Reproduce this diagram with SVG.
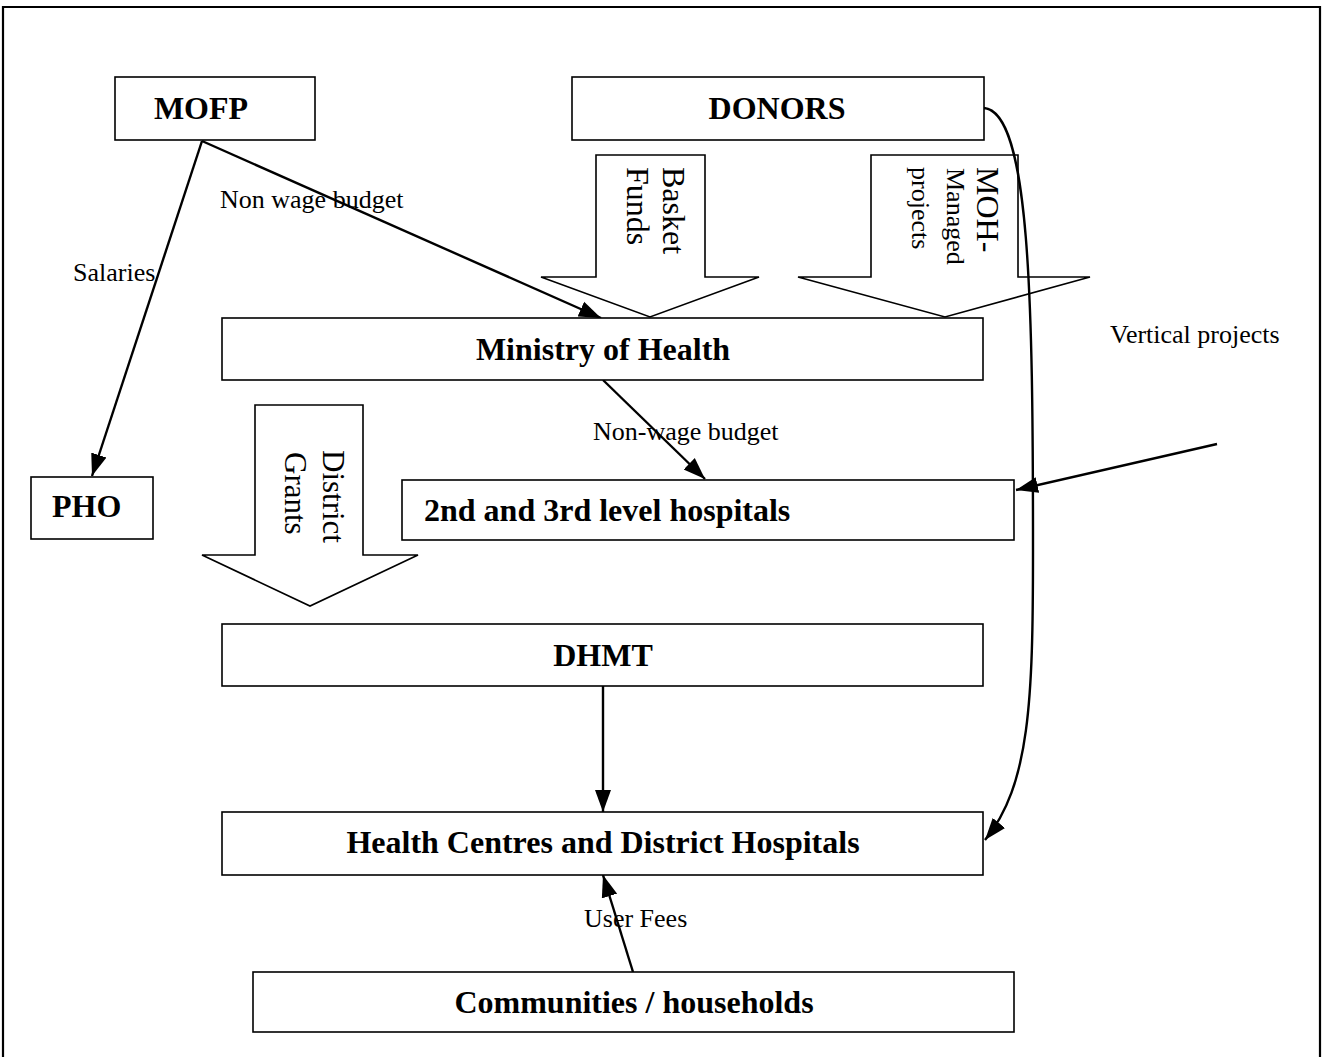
<svg xmlns="http://www.w3.org/2000/svg" width="1323" height="1057" viewBox="0 0 1323 1057">
<defs>
<style>
.box{fill:#fff;stroke:#000;stroke-width:1.6}
.blk{fill:#fff;stroke:#000;stroke-width:1.6;stroke-linejoin:miter}
.t{font-family:"Liberation Serif","Times New Roman",serif;font-weight:bold;font-size:32px;fill:#000}
.l{font-family:"Liberation Serif","Times New Roman",serif;font-size:26px;fill:#000}
.r{font-family:"Liberation Serif","Times New Roman",serif;font-size:32px;fill:#000}
.c{fill:none;stroke:#000;stroke-width:2.4}
</style>
<marker id="ah" markerUnits="userSpaceOnUse" markerWidth="24" markerHeight="18" viewBox="0 0 24 18" refX="22" refY="9" orient="auto">
<path d="M0,1 L22,9 L0,17 Z" fill="#000"/>
</marker>
</defs>
<rect width="1323" height="1057" fill="#fff"/>
<path d="M3,1057 V7 H1320 V1057" fill="none" stroke="#000" stroke-width="2.2"/>

<g id="arrow-basket">
<path class="blk" d="M596,155 H705 V277 H759 L650,317 L541,277 H596 Z"/>
<text class="r" transform="translate(663,167) rotate(90)">Basket</text>
<text class="r" transform="translate(627,167) rotate(90)">Funds</text>
</g>
<g id="arrow-moh-managed">
<path class="blk" d="M871,155 H1018 V277 H1090 L945,317 L798,277 H871 Z"/>
<text class="r" transform="translate(977,167) rotate(90)">MOH-</text>
<text class="l" transform="translate(947,168) rotate(90)">Managed</text>
<text class="l" transform="translate(912,167) rotate(90)">projects</text>
</g>
<g id="arrow-district-grants">
<path class="blk" d="M255,405 H363 V555 H418 L310,606 L202,555 H255 Z"/>
<text class="r" style="font-size:31px" transform="translate(323,450) rotate(90)">District</text>
<text class="r" style="font-size:31px" transform="translate(285,452) rotate(90)">Grants</text>
</g>

<g id="connectors">
<line class="c" x1="202" y1="141" x2="92" y2="476" marker-end="url(#ah)"/>
<line class="c" x1="202" y1="141" x2="601" y2="318" marker-end="url(#ah)"/>
<line class="c" x1="603" y1="380" x2="705" y2="479" marker-end="url(#ah)"/>
<line class="c" x1="603" y1="686" x2="603" y2="812" marker-end="url(#ah)"/>
<line class="c" x1="633" y1="972" x2="603" y2="875" marker-end="url(#ah)"/>
<path class="c" d="M984,108 C1030,112 1033,300 1033,550 C1033,700 1030,785 985,840" marker-end="url(#ah)"/>
<line class="c" x1="1217" y1="444" x2="1016" y2="490" marker-end="url(#ah)"/>
<text class="l" x="220" y="208">Non wage budget</text>
<text class="l" x="73" y="281">Salaries</text>
<text class="l" x="1110" y="343">Vertical projects</text>
<text class="l" x="593" y="440">Non-wage budget</text>
<text class="l" x="584" y="927">User Fees</text>
</g>

<g id="node-mofp">
<rect class="box" x="115" y="77" width="200" height="63"/>
<text class="t" x="201" y="119" text-anchor="middle">MOFP</text>
</g>
<g id="node-donors">
<rect class="box" x="572" y="77" width="412" height="63"/>
<text class="t" x="777" y="119" text-anchor="middle">DONORS</text>
</g>
<g id="node-moh">
<rect class="box" x="222" y="318" width="761" height="62"/>
<text class="t" x="603" y="360" text-anchor="middle">Ministry of Health</text>
</g>
<g id="node-pho">
<rect class="box" x="31" y="477" width="122" height="62"/>
<text class="t" x="52" y="517">PHO</text>
</g>
<g id="node-hospitals">
<rect class="box" x="402" y="480" width="612" height="60"/>
<text class="t" x="424" y="521">2nd and 3rd level hospitals</text>
</g>
<g id="node-dhmt">
<rect class="box" x="222" y="624" width="761" height="62"/>
<text class="t" x="603" y="666" text-anchor="middle">DHMT</text>
</g>
<g id="node-health-centres">
<rect class="box" x="222" y="812" width="761" height="63"/>
<text class="t" x="603" y="853" text-anchor="middle">Health Centres and District Hospitals</text>
</g>
<g id="node-communities">
<rect class="box" x="253" y="972" width="761" height="60"/>
<text class="t" x="634" y="1013" text-anchor="middle">Communities / households</text>
</g>
</svg>
